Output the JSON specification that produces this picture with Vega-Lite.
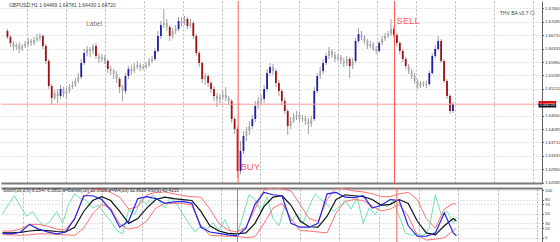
{
"$schema": "https://vega.github.io/schema/vega-lite/v6.json",
"background": "white",
"padding": 0,
"spacing": 5,
"bounds": "flush",
"config": {"view": {"stroke": null}, "font": "Liberation Sans"},
"datasets": {
"ohlc": [
{"i":0,"o":1.6683,"h":1.66886,"l":1.66606,"c":1.66662},
{"i":1,"o":1.66662,"h":1.66718,"l":1.66382,"c":1.66494},
{"i":2,"o":1.66494,"h":1.6655,"l":1.6627,"c":1.66382},
{"i":3,"o":1.66382,"h":1.66494,"l":1.66298,"c":1.66438},
{"i":4,"o":1.66438,"h":1.66522,"l":1.66214,"c":1.66326},
{"i":5,"o":1.66326,"h":1.66466,"l":1.6627,"c":1.6641},
{"i":6,"o":1.6641,"h":1.6655,"l":1.66354,"c":1.66466},
{"i":7,"o":1.66466,"h":1.66634,"l":1.6641,"c":1.6655},
{"i":8,"o":1.6655,"h":1.66606,"l":1.6641,"c":1.66494},
{"i":9,"o":1.66494,"h":1.66662,"l":1.66438,"c":1.66578},
{"i":10,"o":1.66578,"h":1.66746,"l":1.66522,"c":1.66634},
{"i":11,"o":1.66634,"h":1.66774,"l":1.6655,"c":1.6669},
{"i":12,"o":1.6669,"h":1.66746,"l":1.66326,"c":1.6641},
{"i":13,"o":1.6641,"h":1.66466,"l":1.65906,"c":1.6599},
{"i":14,"o":1.6599,"h":1.66046,"l":1.65206,"c":1.6529},
{"i":15,"o":1.6529,"h":1.65346,"l":1.64758,"c":1.64954},
{"i":16,"o":1.64954,"h":1.65178,"l":1.64898,"c":1.65094},
{"i":17,"o":1.65094,"h":1.65206,"l":1.64814,"c":1.6501},
{"i":18,"o":1.6501,"h":1.65318,"l":1.64926,"c":1.65206},
{"i":19,"o":1.65206,"h":1.65262,"l":1.64982,"c":1.65066},
{"i":20,"o":1.65066,"h":1.65234,"l":1.64926,"c":1.6515},
{"i":21,"o":1.6515,"h":1.65346,"l":1.65094,"c":1.65262},
{"i":22,"o":1.65262,"h":1.6543,"l":1.65206,"c":1.65318},
{"i":23,"o":1.65318,"h":1.65514,"l":1.65262,"c":1.6543},
{"i":24,"o":1.6543,"h":1.65654,"l":1.65374,"c":1.65542},
{"i":25,"o":1.65542,"h":1.66046,"l":1.65486,"c":1.65934},
{"i":26,"o":1.65934,"h":1.66326,"l":1.65878,"c":1.66214},
{"i":27,"o":1.66214,"h":1.6641,"l":1.6613,"c":1.66326},
{"i":28,"o":1.66326,"h":1.66382,"l":1.66102,"c":1.6627},
{"i":29,"o":1.6627,"h":1.66466,"l":1.66186,"c":1.6641},
{"i":30,"o":1.6641,"h":1.66494,"l":1.66046,"c":1.6613},
{"i":31,"o":1.6613,"h":1.66214,"l":1.65934,"c":1.66046},
{"i":32,"o":1.66046,"h":1.66186,"l":1.65962,"c":1.66102},
{"i":33,"o":1.66102,"h":1.66158,"l":1.65906,"c":1.6599},
{"i":34,"o":1.6599,"h":1.66046,"l":1.65654,"c":1.65766},
{"i":35,"o":1.65766,"h":1.6585,"l":1.65598,"c":1.6571},
{"i":36,"o":1.6571,"h":1.65766,"l":1.65486,"c":1.65626},
{"i":37,"o":1.65626,"h":1.6571,"l":1.65374,"c":1.65486},
{"i":38,"o":1.65486,"h":1.65542,"l":1.65094,"c":1.65262},
{"i":39,"o":1.65262,"h":1.65318,"l":1.6487,"c":1.6515},
{"i":40,"o":1.6515,"h":1.65654,"l":1.65066,"c":1.6557},
{"i":41,"o":1.6557,"h":1.6585,"l":1.65486,"c":1.65766},
{"i":42,"o":1.65766,"h":1.65878,"l":1.65598,"c":1.6571},
{"i":43,"o":1.6571,"h":1.65934,"l":1.65654,"c":1.65822},
{"i":44,"o":1.65822,"h":1.6599,"l":1.65766,"c":1.65878},
{"i":45,"o":1.65878,"h":1.65934,"l":1.6571,"c":1.65794},
{"i":46,"o":1.65794,"h":1.65906,"l":1.65738,"c":1.65822},
{"i":47,"o":1.65822,"h":1.65962,"l":1.65766,"c":1.65878},
{"i":48,"o":1.65878,"h":1.66074,"l":1.65822,"c":1.6599},
{"i":49,"o":1.6599,"h":1.6613,"l":1.65934,"c":1.66046},
{"i":50,"o":1.66046,"h":1.66354,"l":1.6599,"c":1.6627},
{"i":51,"o":1.6627,"h":1.6683,"l":1.66214,"c":1.6669},
{"i":52,"o":1.6669,"h":1.6711,"l":1.66606,"c":1.66998},
{"i":53,"o":1.66998,"h":1.67446,"l":1.66914,"c":1.67054},
{"i":54,"o":1.67054,"h":1.67166,"l":1.6683,"c":1.66942},
{"i":55,"o":1.66942,"h":1.66998,"l":1.6655,"c":1.6669},
{"i":56,"o":1.6669,"h":1.66914,"l":1.66606,"c":1.6683},
{"i":57,"o":1.6683,"h":1.66998,"l":1.66746,"c":1.66886},
{"i":58,"o":1.66886,"h":1.67222,"l":1.6683,"c":1.6711},
{"i":59,"o":1.6711,"h":1.67222,"l":1.6697,"c":1.67054},
{"i":60,"o":1.67054,"h":1.6725,"l":1.66998,"c":1.67166},
{"i":61,"o":1.67166,"h":1.67222,"l":1.66886,"c":1.6697},
{"i":62,"o":1.6697,"h":1.67166,"l":1.66914,"c":1.67054},
{"i":63,"o":1.67054,"h":1.6711,"l":1.66606,"c":1.6669},
{"i":64,"o":1.6669,"h":1.66746,"l":1.6613,"c":1.66214},
{"i":65,"o":1.66214,"h":1.6627,"l":1.65822,"c":1.65934},
{"i":66,"o":1.65934,"h":1.6599,"l":1.65374,"c":1.65486},
{"i":67,"o":1.65486,"h":1.65654,"l":1.65318,"c":1.6557},
{"i":68,"o":1.6557,"h":1.65626,"l":1.65262,"c":1.65374},
{"i":69,"o":1.65374,"h":1.6543,"l":1.65094,"c":1.65206},
{"i":70,"o":1.65206,"h":1.6529,"l":1.6487,"c":1.6501},
{"i":71,"o":1.6501,"h":1.65094,"l":1.64702,"c":1.64926},
{"i":72,"o":1.64926,"h":1.65066,"l":1.64814,"c":1.64982},
{"i":73,"o":1.64982,"h":1.6515,"l":1.64898,"c":1.65038},
{"i":74,"o":1.65038,"h":1.65262,"l":1.6487,"c":1.64954},
{"i":75,"o":1.64954,"h":1.6501,"l":1.64758,"c":1.6487},
{"i":76,"o":1.6487,"h":1.64926,"l":1.64254,"c":1.64366},
{"i":77,"o":1.64366,"h":1.64422,"l":1.63946,"c":1.64086},
{"i":78,"o":1.64086,"h":1.64142,"l":1.62714,"c":1.6291},
{"i":79,"o":1.6291,"h":1.6375,"l":1.62826,"c":1.6347},
{"i":80,"o":1.6347,"h":1.6403,"l":1.63386,"c":1.6389},
{"i":81,"o":1.6389,"h":1.64142,"l":1.6375,"c":1.6403},
{"i":82,"o":1.6403,"h":1.6431,"l":1.63918,"c":1.6417},
{"i":83,"o":1.6417,"h":1.64478,"l":1.64086,"c":1.64366},
{"i":84,"o":1.64366,"h":1.6487,"l":1.64282,"c":1.6473},
{"i":85,"o":1.6473,"h":1.64982,"l":1.64646,"c":1.6487},
{"i":86,"o":1.6487,"h":1.65038,"l":1.64758,"c":1.64926},
{"i":87,"o":1.64926,"h":1.65318,"l":1.64814,"c":1.65206},
{"i":88,"o":1.65206,"h":1.65766,"l":1.6515,"c":1.65654},
{"i":89,"o":1.65654,"h":1.65934,"l":1.6557,"c":1.65822},
{"i":90,"o":1.65822,"h":1.65906,"l":1.65598,"c":1.6571},
{"i":91,"o":1.6571,"h":1.65766,"l":1.65262,"c":1.65374},
{"i":92,"o":1.65374,"h":1.65458,"l":1.6501,"c":1.6515},
{"i":93,"o":1.6515,"h":1.65206,"l":1.64758,"c":1.6487},
{"i":94,"o":1.6487,"h":1.64954,"l":1.64506,"c":1.6459},
{"i":95,"o":1.6459,"h":1.64646,"l":1.63918,"c":1.6417},
{"i":96,"o":1.6417,"h":1.64422,"l":1.64086,"c":1.6431},
{"i":97,"o":1.6431,"h":1.64534,"l":1.64254,"c":1.64422},
{"i":98,"o":1.64422,"h":1.6459,"l":1.64338,"c":1.64478},
{"i":99,"o":1.64478,"h":1.64562,"l":1.64282,"c":1.64366},
{"i":100,"o":1.64366,"h":1.64478,"l":1.64282,"c":1.64394},
{"i":101,"o":1.64394,"h":1.6445,"l":1.64198,"c":1.6431},
{"i":102,"o":1.6431,"h":1.64394,"l":1.63946,"c":1.64226},
{"i":103,"o":1.64226,"h":1.6445,"l":1.64142,"c":1.64366},
{"i":104,"o":1.64366,"h":1.65262,"l":1.6431,"c":1.6515},
{"i":105,"o":1.6515,"h":1.65654,"l":1.65094,"c":1.6557},
{"i":106,"o":1.6557,"h":1.65822,"l":1.65486,"c":1.6571},
{"i":107,"o":1.6571,"h":1.66046,"l":1.65626,"c":1.65934},
{"i":108,"o":1.65934,"h":1.66214,"l":1.65878,"c":1.6613},
{"i":109,"o":1.6613,"h":1.66382,"l":1.66046,"c":1.6627},
{"i":110,"o":1.6627,"h":1.66326,"l":1.66074,"c":1.66158},
{"i":111,"o":1.66158,"h":1.66242,"l":1.65962,"c":1.66046},
{"i":112,"o":1.66046,"h":1.66186,"l":1.6599,"c":1.66102},
{"i":113,"o":1.66102,"h":1.66158,"l":1.65906,"c":1.6599},
{"i":114,"o":1.6599,"h":1.66074,"l":1.65822,"c":1.65934},
{"i":115,"o":1.65934,"h":1.6613,"l":1.6585,"c":1.66046},
{"i":116,"o":1.66046,"h":1.66102,"l":1.65514,"c":1.6585},
{"i":117,"o":1.6585,"h":1.66074,"l":1.65766,"c":1.6599},
{"i":118,"o":1.6599,"h":1.66634,"l":1.65934,"c":1.6655},
{"i":119,"o":1.6655,"h":1.66914,"l":1.66494,"c":1.66746},
{"i":120,"o":1.66746,"h":1.6683,"l":1.66578,"c":1.66662},
{"i":121,"o":1.66662,"h":1.66718,"l":1.66466,"c":1.6655},
{"i":122,"o":1.6655,"h":1.66606,"l":1.66326,"c":1.6641},
{"i":123,"o":1.6641,"h":1.6655,"l":1.66354,"c":1.66466},
{"i":124,"o":1.66466,"h":1.66522,"l":1.6627,"c":1.66326},
{"i":125,"o":1.66326,"h":1.6641,"l":1.66186,"c":1.6627},
{"i":126,"o":1.6627,"h":1.6655,"l":1.66214,"c":1.66494},
{"i":127,"o":1.66494,"h":1.6669,"l":1.66438,"c":1.66606},
{"i":128,"o":1.66606,"h":1.66774,"l":1.6655,"c":1.6669},
{"i":129,"o":1.6669,"h":1.6683,"l":1.66634,"c":1.66746},
{"i":130,"o":1.66746,"h":1.67166,"l":1.6669,"c":1.66886},
{"i":131,"o":1.66886,"h":1.6697,"l":1.66634,"c":1.66718},
{"i":132,"o":1.66718,"h":1.66774,"l":1.6641,"c":1.66494},
{"i":133,"o":1.66494,"h":1.6655,"l":1.66186,"c":1.6627},
{"i":134,"o":1.6627,"h":1.66326,"l":1.65962,"c":1.66046},
{"i":135,"o":1.66046,"h":1.66102,"l":1.65766,"c":1.6585},
{"i":136,"o":1.6585,"h":1.65906,"l":1.65626,"c":1.6571},
{"i":137,"o":1.6571,"h":1.65766,"l":1.65486,"c":1.6557},
{"i":138,"o":1.6557,"h":1.65654,"l":1.65346,"c":1.6543},
{"i":139,"o":1.6543,"h":1.65486,"l":1.65206,"c":1.6529},
{"i":140,"o":1.6529,"h":1.6543,"l":1.65234,"c":1.65374},
{"i":141,"o":1.65374,"h":1.6543,"l":1.65262,"c":1.65318},
{"i":142,"o":1.65318,"h":1.6543,"l":1.65234,"c":1.65346},
{"i":143,"o":1.65346,"h":1.6571,"l":1.6529,"c":1.65654},
{"i":144,"o":1.65654,"h":1.66214,"l":1.65598,"c":1.6613},
{"i":145,"o":1.6613,"h":1.66438,"l":1.66074,"c":1.66326},
{"i":146,"o":1.66326,"h":1.6669,"l":1.6627,"c":1.6655},
{"i":147,"o":1.6655,"h":1.66606,"l":1.65934,"c":1.6599},
{"i":148,"o":1.6599,"h":1.66046,"l":1.65374,"c":1.6543},
{"i":149,"o":1.6543,"h":1.65486,"l":1.64926,"c":1.6501},
{"i":150,"o":1.6501,"h":1.65066,"l":1.64506,"c":1.6459},
{"i":151,"o":1.6459,"h":1.64842,"l":1.64534,"c":1.64786}
],
"osc": [
{"i":0,"st":9,"ma":10,"up":14,"lo":6},
{"i":3,"st":8,"ma":10,"up":14,"lo":6},
{"i":6,"st":12,"ma":11,"up":18,"lo":5},
{"i":9,"st":28,"ma":14,"up":28,"lo":6},
{"i":12,"st":18,"ma":16,"up":28,"lo":8},
{"i":15,"st":12,"ma":15,"up":24,"lo":8},
{"i":18,"st":8,"ma":13,"up":18,"lo":7},
{"i":21,"st":12,"ma":12,"up":16,"lo":6},
{"i":24,"st":40,"ma":22,"up":40,"lo":5},
{"i":27,"st":88,"ma":55,"up":85,"lo":20},
{"i":30,"st":88,"ma":78,"up":100,"lo":50},
{"i":33,"st":80,"ma":86,"up":102,"lo":70},
{"i":36,"st":58,"ma":78,"up":95,"lo":62},
{"i":39,"st":22,"ma":55,"up":85,"lo":28},
{"i":42,"st":35,"ma":30,"up":60,"lo":18},
{"i":45,"st":82,"ma":40,"up":65,"lo":22},
{"i":48,"st":86,"ma":62,"up":90,"lo":35},
{"i":51,"st":82,"ma":80,"up":95,"lo":62},
{"i":54,"st":72,"ma":85,"up":96,"lo":72},
{"i":57,"st":75,"ma":82,"up":92,"lo":72},
{"i":60,"st":76,"ma":80,"up":88,"lo":72},
{"i":63,"st":72,"ma":78,"up":86,"lo":68},
{"i":66,"st":22,"ma":55,"up":85,"lo":25},
{"i":69,"st":12,"ma":25,"up":60,"lo":5},
{"i":72,"st":9,"ma":14,"up":30,"lo":4},
{"i":75,"st":6,"ma":9,"up":16,"lo":3},
{"i":78,"st":4,"ma":8,"up":12,"lo":3},
{"i":81,"st":20,"ma":10,"up":22,"lo":0},
{"i":84,"st":70,"ma":30,"up":60,"lo":2},
{"i":87,"st":95,"ma":65,"up":100,"lo":30},
{"i":90,"st":90,"ma":85,"up":105,"lo":62},
{"i":93,"st":88,"ma":88,"up":102,"lo":72},
{"i":96,"st":30,"ma":68,"up":98,"lo":40},
{"i":99,"st":22,"ma":35,"up":70,"lo":15},
{"i":102,"st":22,"ma":23,"up":40,"lo":14},
{"i":105,"st":30,"ma":22,"up":34,"lo":12},
{"i":108,"st":92,"ma":45,"up":80,"lo":10},
{"i":111,"st":95,"ma":80,"up":105,"lo":52},
{"i":114,"st":85,"ma":90,"up":102,"lo":76},
{"i":117,"st":84,"ma":88,"up":98,"lo":80},
{"i":120,"st":88,"ma":86,"up":96,"lo":78},
{"i":123,"st":62,"ma":80,"up":92,"lo":66},
{"i":126,"st":68,"ma":68,"up":86,"lo":56},
{"i":129,"st":80,"ma":70,"up":86,"lo":60},
{"i":132,"st":78,"ma":80,"up":92,"lo":70},
{"i":135,"st":25,"ma":72,"up":95,"lo":45},
{"i":138,"st":3,"ma":35,"up":80,"lo":5},
{"i":141,"st":3,"ma":10,"up":40,"lo":-5},
{"i":144,"st":10,"ma":6,"up":20,"lo":-3},
{"i":147,"st":52,"ma":25,"up":60,"lo":0},
{"i":150,"st":10,"ma":40,"up":72,"lo":15},
{"i":151,"st":4,"ma":35,"up":70,"lo":20}
],
"rsi": [
{"i":0,"r":50},{"i":2,"r":70},{"i":4,"r":88},{"i":6,"r":65},{"i":8,"r":45},{"i":10,"r":55},{"i":12,"r":35},{"i":14,"r":25},{"i":16,"r":35},{"i":18,"r":55},
{"i":20,"r":30},{"i":22,"r":70},{"i":24,"r":92},{"i":26,"r":82},{"i":28,"r":78},{"i":30,"r":62},{"i":32,"r":68},{"i":34,"r":50},{"i":36,"r":35},{"i":38,"r":15},
{"i":40,"r":8},{"i":42,"r":60},{"i":44,"r":48},{"i":46,"r":80},{"i":48,"r":70},{"i":50,"r":90},{"i":52,"r":78},{"i":54,"r":62},{"i":56,"r":85},{"i":58,"r":70},
{"i":60,"r":50},{"i":62,"r":30},{"i":64,"r":12},{"i":66,"r":25},{"i":68,"r":18},{"i":70,"r":32},{"i":72,"r":15},{"i":74,"r":38},{"i":76,"r":10},{"i":78,"r":5},
{"i":80,"r":45},{"i":82,"r":90},{"i":84,"r":80},{"i":86,"r":55},{"i":88,"r":85},{"i":90,"r":40},{"i":92,"r":25},{"i":94,"r":70},{"i":96,"r":35},{"i":98,"r":50},
{"i":100,"r":30},{"i":102,"r":65},{"i":104,"r":92},{"i":106,"r":80},{"i":108,"r":70},{"i":110,"r":55},{"i":112,"r":65},{"i":114,"r":78},{"i":116,"r":60},{"i":118,"r":85},
{"i":120,"r":30},{"i":122,"r":62},{"i":124,"r":48},{"i":126,"r":72},{"i":128,"r":65},{"i":130,"r":78},{"i":132,"r":45},{"i":134,"r":10},{"i":136,"r":5},{"i":138,"r":8},
{"i":140,"r":4},{"i":142,"r":20},{"i":144,"r":90},{"i":146,"r":48},{"i":148,"r":55},{"i":150,"r":30},{"i":151,"r":43}
]
},
"vconcat": [
{
"width": 541, "height": 182,
"encoding": {
  "x": {"field": "i", "type": "quantitative", "title": null, "scale": {"domain": [-0.5, 179.5], "nice": false, "zero": false},
        "axis": {"orient": "bottom", "labels": false, "ticks": false, "title": null, "domain": true, "domainColor": "#7a7a7a", "domainWidth": 2, "grid": true, "gridColor": "#b4b4b4", "gridDash": [2, 2], "values": [6.72, 19.9, 33.07, 46.25, 59.42, 72.6, 85.77, 98.95, 112.12, 125.3, 138.47, 151.65, 164.82, 178]}},
  "y": {"field": "p", "type": "quantitative", "title": null, "scale": {"domain": [1.62574, 1.6767], "nice": false, "zero": false},
        "axis": {"orient": "right", "title": null, "values": [1.6746, 1.67085, 1.6671, 1.66335, 1.6596, 1.65585, 1.6521, 1.6446, 1.64085, 1.6371, 1.63335, 1.6296, 1.62585], "format": ".5f", "labelFontSize": 4.3, "labelColor": "#333", "tickSize": 1.5, "tickColor": "#666", "labelPadding": 1, "domainColor": "#666", "grid": true, "gridColor": "#c8c8c8", "gridDash": [1, 2], "labelOverlap": false}}
},
"layer": [
{"data": {"name": "ohlc"}, "mark": {"type": "rule", "color": "#a0a0a0", "strokeWidth": 1},
 "encoding": {"y": {"field": "l", "type": "quantitative", "title": null}, "y2": {"field": "h"}}},
{"data": {"name": "ohlc"}, "mark": {"type": "bar", "width": 1.8},
 "encoding": {
  "y": {"field": "o", "type": "quantitative", "title": null},
  "y2": {"field": "c"},
  "color": {"condition": [{"test": "datum.c - datum.o > 0.0015", "value": "#1e1ea8"}, {"test": "datum.o - datum.c > 0.0015", "value": "#a01010"}], "value": "#a8a8a8"}
 }},
{"data": {"values": [{"p": 1.6478}]}, "mark": {"type": "rule", "color": "#ff9a9a", "strokeWidth": 1},
 "encoding": {"x": null}},
{"data": {"values": [{"i": 78.2}, {"i": 131.2}]}, "mark": {"type": "rule", "color": "#ff5a5a", "strokeWidth": 1},
 "encoding": {"y": null}},
{"data": {"values": [{"i": 180, "i2": 186, "p": 1.6487, "p2": 1.64786}]}, "mark": {"type": "rect", "color": "#e01010"},
 "encoding": {"x2": {"field": "i2"}, "y2": {"field": "p2"}}},
{"data": {"values": [{"i": 180, "i2": 186, "p": 1.64786, "p2": 1.64688}]}, "mark": {"type": "rect", "color": "#111"},
 "encoding": {"x2": {"field": "i2"}, "y2": {"field": "p2"}}},
{"data": {"values": [{"i": 180.4, "p": 1.6475, "t": "1.64720"}]}, "mark": {"type": "text", "align": "left", "baseline": "middle", "fontSize": 4.3, "color": "white"},
 "encoding": {"text": {"field": "t"}}},
{"data": {"values": [{"i": 0.5, "p": 1.67572, "t": "GBPUSD,H1  1.64469 1.64781 1.64430 1.64720"}]}, "mark": {"type": "text", "align": "left", "baseline": "middle", "fontSize": 5, "color": "#444"},
 "encoding": {"text": {"field": "t"}}},
{"data": {"values": [{"i": 176.6, "p": 1.67334, "t": "THV BA v0.7"}]}, "mark": {"type": "text", "align": "right", "baseline": "middle", "fontSize": 5, "color": "#444"},
 "encoding": {"text": {"field": "t"}}},
{"data": {"values": [{"i": 177.9, "p": 1.67334}]}, "mark": {"type": "point", "shape": "circle", "size": 14, "stroke": "#666", "strokeWidth": 0.8, "filled": false}},
{"data": {"values": [{"i": 29.4, "p": 1.67026, "t": "Label"}]}, "mark": {"type": "text", "align": "center", "baseline": "middle", "fontSize": 6.5, "color": "#8a6e60"},
 "encoding": {"text": {"field": "t"}}},
{"data": {"values": [{"i": 79.0, "p": 1.63022, "t": "BUY"}, {"i": 131.9, "p": 1.6711, "t": "SELL"}]}, "mark": {"type": "text", "align": "left", "baseline": "middle", "fontSize": 9.5, "color": "#ff5a5a"},
 "encoding": {"text": {"field": "t"}}}
]
},
{
"width": 541, "height": 55,
"encoding": {
  "x": {"field": "i", "type": "quantitative", "title": null, "scale": {"domain": [-0.5, 179.5], "nice": false, "zero": false},
        "axis": {"orient": "top", "labels": false, "ticks": false, "title": null, "domain": true, "domainColor": "#7a7a7a", "domainWidth": 2, "grid": true, "gridColor": "#b4b4b4", "gridDash": [2, 2], "values": [6.72, 19.9, 33.07, 46.25, 59.42, 72.6, 85.77, 98.95, 112.12, 125.3, 138.47, 151.65, 164.82, 178]}},
  "y": {"field": "v", "type": "quantitative", "title": null, "scale": {"domain": [-11.1, 104.2], "nice": false, "zero": false},
        "axis": {"orient": "right", "title": null, "values": [0, 20, 30, 50, 70, 80, 100], "format": "d", "labelFontSize": 4.3, "labelColor": "#333", "tickSize": 1.5, "tickColor": "#666", "labelPadding": 1, "domainColor": "#666", "grid": true, "gridColor": "#c8c8c8", "gridDash": [1, 2], "labelOverlap": false}}
},
"layer": [
{"data": {"name": "rsi"}, "mark": {"type": "line", "color": "#6fe3b4", "strokeWidth": 1},
 "encoding": {"y": {"field": "r", "type": "quantitative", "title": null}}},
{"data": {"name": "osc"}, "mark": {"type": "line", "color": "#ff7070", "strokeWidth": 1, "clip": true},
 "encoding": {"y": {"field": "up", "type": "quantitative", "title": null}}},
{"data": {"name": "osc"}, "mark": {"type": "line", "color": "#ff7070", "strokeWidth": 1, "clip": true},
 "encoding": {"y": {"field": "lo", "type": "quantitative", "title": null}}},
{"data": {"name": "osc"}, "mark": {"type": "line", "color": "#111111", "strokeWidth": 1.2},
 "encoding": {"y": {"field": "ma", "type": "quantitative", "title": null}}},
{"data": {"name": "osc"}, "mark": {"type": "line", "color": "#2323e6", "strokeWidth": 1.2},
 "encoding": {"y": {"field": "st", "type": "quantitative", "title": null}}},
{"data": {"values": [{"i": 78.2}, {"i": 131.2}]}, "mark": {"type": "rule", "color": "#ff5a5a", "strokeWidth": 1},
 "encoding": {"y": null}},
{"data": {"values": [{"i": 0.2, "v": 97.5, "t": "Stoch(20,3,5) 8.2547 6.3851    a=Bands(10) 22.0628    a=MA(10) 32.8628    RSI(9) 43.4215"}]}, "mark": {"type": "text", "align": "left", "baseline": "middle", "fontSize": 4.6, "color": "#333"},
 "encoding": {"text": {"field": "t"}}}
]
}
]
}
